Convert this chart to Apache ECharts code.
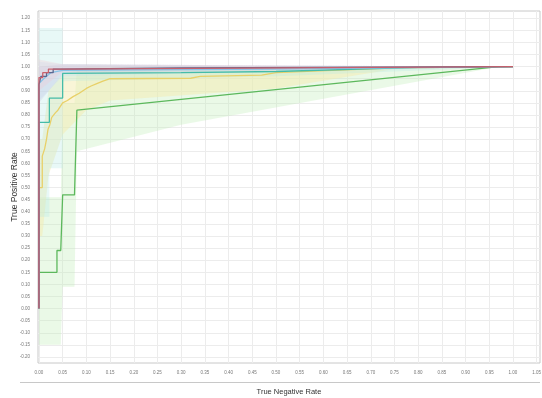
<!DOCTYPE html>
<html>
<head>
<meta charset="utf-8">
<script src="https://cdn.jsdelivr.net/npm/echarts@6/dist/echarts.min.js"></script>
<style>html,body{margin:0;padding:0;background:#fff}#c{width:542px;height:398px}</style>
</head>
<body>
<div id="c"></div>
<script>
// Tick labels
const xTicks = [0,0.05,0.10,0.15,0.20,0.25,0.30,0.35,0.40,0.45,0.50,0.55,0.60,0.65,0.70,0.75,0.80,0.85,0.90,0.95,1.00,1.05];
const yTicks = [-0.20,-0.15,-0.10,-0.05,0,0.05,0.10,0.15,0.20,0.25,0.30,0.35,0.40,0.45,0.50,0.55,0.60,0.65,0.70,0.75,0.80,0.85,0.90,0.95,1.00,1.05,1.10,1.15,1.20];

// Curves [x, y]
const redLine = [[0,0],[0,0.955],[0.008,0.955],[0.008,0.975],[0.02,0.975],[0.02,0.99],[0.05,0.99],[0.05,0.995],[1,1]];
const darkLine = [[0,0],[0,0.925],[0.004,0.925],[0.004,0.96],[0.016,0.96],[0.016,0.975],[0.03,0.975],[0.03,0.99],[0.045,0.99],[0.045,0.995],[0.3,0.995],[1,1]];
const skyLine = [[0,0],[0,0.93],[0.01,0.95],[0.025,0.975],[0.05,0.985],[0.5,0.99],[1,1]];
const tealLine = [[0,0],[0,0.77],[0.022,0.77],[0.022,0.87],[0.05,0.87],[0.05,0.972],[0.3,0.975],[0.5,0.98],[0.8,0.997],[1,1]];
const yellowLine = [[0,0],[0,0.5],[0.007,0.5],[0.007,0.63],[0.012,0.66],[0.016,0.7],[0.019,0.74],[0.023,0.76],[0.027,0.79],[0.035,0.81],[0.04,0.82],[0.05,0.85],[0.06,0.86],[0.072,0.876],[0.085,0.89],[0.1,0.91],[0.11,0.92],[0.122,0.93],[0.135,0.94],[0.15,0.95],[0.32,0.952],[0.34,0.96],[0.47,0.965],[0.5,0.975],[0.75,0.995],[1,1]];
const greenLine = [[0,0],[0,0.15],[0.038,0.15],[0.038,0.24],[0.046,0.24],[0.05,0.47],[0.075,0.47],[0.08,0.82],[0.97,1],[1,1]];

// Bands [x, low, high]
const greenBand = [[0,-0.15,0.46],[0.046,-0.15,0.46],[0.05,0.09,0.85],[0.075,0.09,0.85],[0.08,0.65,0.99],[0.3,0.76,1.0],[0.97,1,1],[1,1,1]];
const yellowBand = [[0,0.3,0.7],[0.007,0.3,0.7],[0.02,0.55,0.9],[0.05,0.72,0.97],[0.1,0.82,1.0],[0.15,0.86,1.0],[0.5,0.91,1.0],[0.75,0.99,1.0],[1,1,1]];
const tealBand = [[0,0.38,1.16],[0.022,0.38,1.16],[0.022,0.58,1.16],[0.05,0.58,1.16],[0.05,0.94,1.01],[0.5,0.96,1.0],[1,1,1]];
const skyBand = [[0,0.86,1.02],[0.05,0.96,1.01],[1,1,1]];
const darkBand = [[0,0.85,1.0],[0.05,0.97,1.01],[1,1,1]];
const redBand = [[0,0.9,1.03],[0.05,0.98,1.01],[1,1,1]];

const chart = echarts.init(document.getElementById('c'), null, {renderer:'canvas'});

function band(data, color, opacity) {
  return {
    type: 'custom', data: data, silent: true, z: 1, clip: true,
    encode: {x: 0, y: [1, 2]},
    renderItem: function (params, api) {
      if (params.dataIndex !== 0) return null;
      const up = data.map(p => api.coord([p[0], p[2]]));
      const lo = data.map(p => api.coord([p[0], p[1]])).reverse();
      return {type: 'polygon', shape: {points: up.concat(lo)}, style: {fill: color, opacity: opacity, stroke: null}};
    }
  };
}
function line(data, color, z) {
  return {type: 'line', data: data, showSymbol: false, symbol: 'none', z: z, silent: true,
    lineStyle: {color: color, width: 1.3}, animation: false};
}

const fmt = v => (Math.abs(v) < 1e-9 ? 0 : v).toFixed(2);

chart.setOption({
  animation: false,
  backgroundColor: '#fff',
  grid: {left: 38, top: 11, width: 502, height: 352, show: true, borderColor: '#c8c8c8', borderWidth: 1,
    containLabel: false, outerBoundsMode: 'none'},
  xAxis: {
    type: 'value', min: -0.002, max: 1.057,
    name: 'True Negative Rate', nameLocation: 'middle', nameGap: 25, nameMoveOverlap: false,
    nameTextStyle: {fontSize: 7.5, color: '#333', fontFamily: 'Liberation Sans'},
    axisLine: {show: false},
    axisTick: {show: false, customValues: xTicks},
    axisLabel: {customValues: xTicks, formatter: fmt, fontSize: 4.5, color: '#777', margin: 7, fontFamily: 'Liberation Sans'},
    splitLine: {show: true, lineStyle: {color: '#ececec', width: 1}}
  },
  yAxis: {
    type: 'value', min: -0.225, max: 1.23,
    name: 'True Positive Rate', nameLocation: 'middle', nameGap: 19, nameRotate: 90, nameMoveOverlap: false,
    nameTextStyle: {fontSize: 8.5, color: '#333', fontFamily: 'Liberation Sans'},
    axisLine: {show: false},
    axisTick: {show: false, customValues: yTicks},
    axisLabel: {customValues: yTicks, formatter: fmt, fontSize: 4.5, color: '#777', margin: 8, fontFamily: 'Liberation Sans'},
    splitLine: {show: true, lineStyle: {color: '#ececec', width: 1}}
  },
  graphic: [{type: 'line', shape: {x1: 20, y1: 382.5, x2: 540, y2: 382.5}, style: {stroke: '#c8c8c8', lineWidth: 1}}],
  series: [
    band(greenBand, '#b8ecb0', 0.3),
    band(yellowBand, '#f4ecb0', 0.5),
    band(tealBand, '#b4e8e4', 0.3),
    band(skyBand, '#c4def2', 0.3),
    band(darkBand, '#c8c8e0', 0.3),
    band(redBand, '#f2c8d0', 0.3),
    line(greenLine, '#5cb85c', 3),
    line(yellowLine, '#e8d068', 4),
    line(tealLine, '#45bca8', 5),
    line(skyLine, '#88c4e8', 6),
    line(darkLine, '#5e6690', 7),
    line(redLine, '#c8606c', 8)
  ]
});
</script>
</body>
</html>
